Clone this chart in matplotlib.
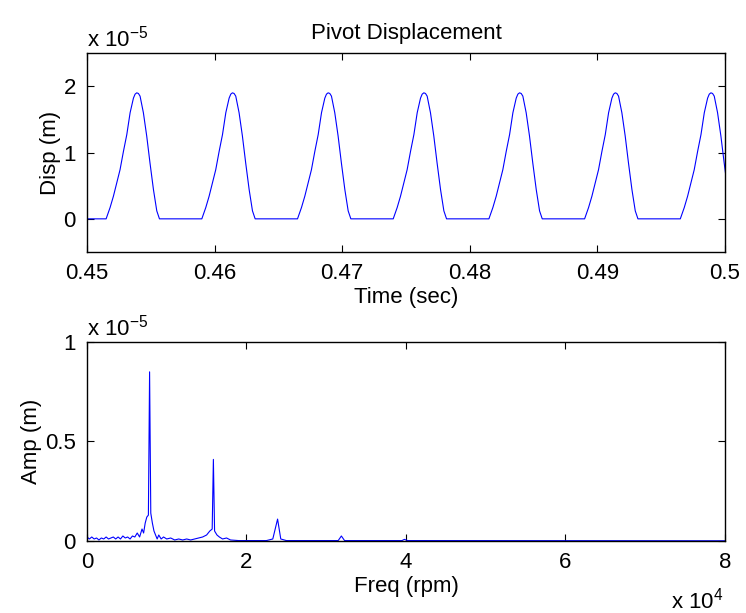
import numpy as np
import matplotlib.pyplot as plt

plt.rcParams['font.family'] = ['Liberation Sans', 'DejaVu Sans']
plt.rcParams['mathtext.default'] = 'regular'
plt.rcParams['font.size'] = 16

# top panel: pivot displacement (x 1e-5 m), one pulse shape
peak_times = [0.4539, 0.4614, 0.4689, 0.4764, 0.4839, 0.4914, 0.4989]
pulse_dt_ms = [-2.40, -2.09, -1.83, -1.57, -1.31, -1.04, -0.78, -0.52, -0.26,
               -0.13, 0.0, 0.13, 0.26, 0.52, 0.78, 1.04, 1.31, 1.57, 1.78]
pulse_disp = [0.0, 0.17, 0.34, 0.54, 0.74, 1.02, 1.27, 1.60, 1.82,
              1.88, 1.90, 1.89, 1.85, 1.60, 1.25, 0.84, 0.44, 0.12, 0.0]
time_ticks = [0.45, 0.46, 0.47, 0.48, 0.49, 0.5]
time_labels = ['0.45', '0.46', '0.47', '0.48', '0.49', '0.5']

# bottom panel: spectrum amplitude (x 1e-5 m) vs frequency (rpm)
freq_rpm = [0, 300, 600, 900, 1200, 1500, 1800, 2100, 2400, 2700, 3000, 3300,
            3600, 3900, 4200, 4500, 4800, 5100, 5400, 5700, 6000, 6300, 6600,
            6900, 7100, 7300, 7500, 7700, 7850, 8000, 8200, 8400, 8600, 8800,
            9000, 9300, 9600, 10000, 10500, 11000, 11500, 12000, 12500, 13000,
            13500, 14000, 14500, 15000, 15400, 15700, 15850, 16000, 16300,
            16600, 17000, 17500, 18000, 19000, 22500, 23300, 23900, 24300,
            25000, 31500, 31900, 32300, 39500, 39800, 40200, 80000]
amp = [0.02, 0.01, 0.02, 0.01, 0.015, 0.005, 0.015, 0.01, 0.02, 0.01, 0.015,
       0.02, 0.01, 0.02, 0.01, 0.025, 0.015, 0.02, 0.01, 0.025, 0.02, 0.04,
       0.02, 0.06, 0.04, 0.09, 0.12, 0.13, 0.85, 0.14, 0.09, 0.05, 0.03, 0.01,
       0.03, 0.01, 0.02, 0.01, 0.015, 0.005, 0.01, 0.005, 0.01, 0.005,
       0.01, 0.015, 0.02, 0.03, 0.05, 0.06, 0.41, 0.05, 0.03,
       0.02, 0.01, 0.015, 0.005, 0.002, 0.002, 0.01, 0.11, 0.01,
       0.002, 0.002, 0.025, 0.002, 0.002, 0.008, 0.002, 0.001]
freq_ticks = [0, 2, 4, 6, 8]

t = [0.45]
disp = [0.0]
for tp in peak_times:
    for dt, v in zip(pulse_dt_ms, pulse_disp):
        t.append(tp + dt / 1000.0)
        disp.append(v)

fig = plt.figure(figsize=(7.46, 6.13), dpi=100)
ax1 = fig.add_axes([0.1166, 0.5889, 0.8552, 0.3246])
ax2 = fig.add_axes([0.1166, 0.1175, 0.8552, 0.3246])

ax1.plot(t, disp, color='#0000ff', lw=0.8)
ax1.set_xlim(0.45, 0.5)
ax1.set_ylim(-0.5, 2.5)
ax1.set_xticks(time_ticks)
ax1.set_xticklabels(time_labels)
ax1.set_yticks([0, 1, 2])
ax1.set_title('Pivot Displacement', fontsize=16, pad=10)
ax1.set_xlabel('Time (sec)', labelpad=2)
ax1.set_ylabel('Disp (m)', labelpad=2)
ax1.text(0.0, 1.035, r'x 10$^{-5}$', transform=ax1.transAxes, ha='left', va='baseline')

ax2.plot(np.array(freq_rpm) / 1e4, amp, color='#0000ff', lw=0.8)
ax2.set_xlim(0, 8)
ax2.set_ylim(0, 1)
ax2.set_xticks(freq_ticks)
ax2.set_yticks([0, 0.5, 1])
ax2.set_yticklabels(['0', '0.5', '1'])
ax2.set_xlabel('Freq (rpm)', labelpad=2)
ax2.set_ylabel('Amp (m)', labelpad=2)
ax2.text(0.0, 1.035, r'x 10$^{-5}$', transform=ax2.transAxes, ha='left', va='baseline')
ax2.text(0.997, -0.34, r'x 10$^{4}$', transform=ax2.transAxes, ha='right', va='baseline')

for ax in (ax1, ax2):
    ax.tick_params(direction='in', top=True, right=True, length=5, width=0.8,
                   pad=8, labelsize=16)
    for s in ax.spines.values():
        s.set_linewidth(1.0)

fig.savefig('out.png', dpi=100)
